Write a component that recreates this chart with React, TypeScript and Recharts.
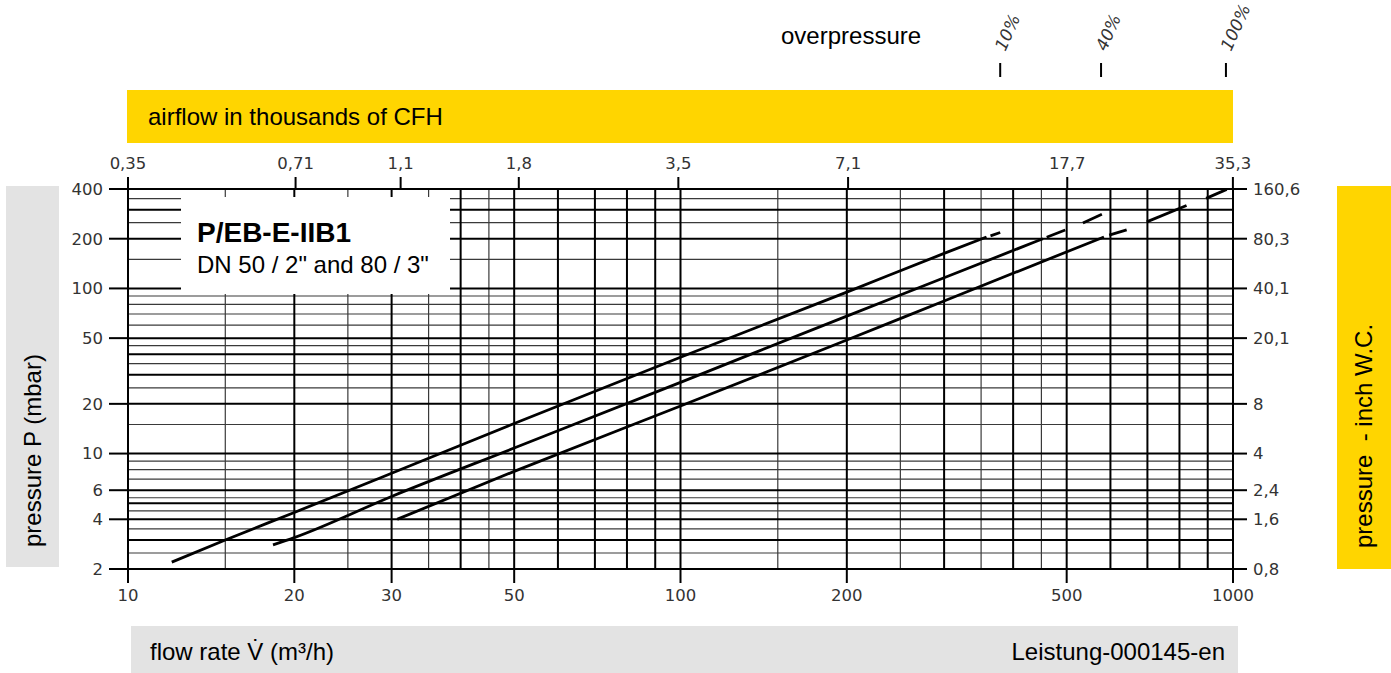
import React from "react";
import { ComposedChart, Line, XAxis, YAxis, ReferenceLine } from "recharts";

// axis ticks
const flowTicks = [10, 20, 30, 50, 100, 200, 500, 1000];
const mbarTicks = [2, 4, 6, 10, 20, 50, 100, 200, 400];
const inchLabels = ["0,8", "1,6", "2,4", "4", "8", "20,1", "40,1", "80,3", "160,6"];
const cfhValues = [0.35, 0.71, 1.1, 1.8, 3.5, 7.1, 17.7, 35.3];
const cfhLabels = ["0,35", "0,71", "1,1", "1,8", "3,5", "7,1", "17,7", "35,3"];
const overpressureAt = [379, 577, 971];
const overpressureLabels = ["10%", "40%", "100%"];

// grid
const gridXMajor = [20, 30, 40, 50, 60, 70, 80, 90, 100, 200, 300, 400, 500, 600, 700, 800, 900];
const gridXMinor = [15, 25, 35, 45, 150, 250, 350, 450];
const gridYMajor = [3, 4, 5, 6, 10, 20, 30, 40, 50, 100, 200, 300];
const gridYMinor = [2.5, 3.5, 4.5, 5.4, 7, 8, 9, 15, 25, 35, 45, 60, 70, 80, 90, 150, 250, 350];

// curves (flow m3/h, pressure mbar)
const curveA = [
  { x: 12, y: 2.2 }, { x: 15, y: 3.0 }, { x: 20, y: 4.4 }, { x: 30, y: 7.6 },
  { x: 50, y: 15.2 }, { x: 100, y: 38.3 }, { x: 200, y: 95 }, { x: 300, y: 163 }, { x: 358, y: 205 },
];
const curveADash = [[{ x: 364, y: 208 }, { x: 379, y: 218 }]];

const curveB = [
  { x: 18.3, y: 2.8 }, { x: 20, y: 3.1 }, { x: 30, y: 5.5 }, { x: 50, y: 10.8 },
  { x: 100, y: 27 }, { x: 200, y: 68 }, { x: 300, y: 116 }, { x: 453, y: 200 },
];
const curveBDash = [
  [{ x: 460, y: 204 }, { x: 497, y: 226 }],
  [{ x: 535, y: 249 }, { x: 579, y: 281 }],
];

const curveC = [
  { x: 30.7, y: 4.0 }, { x: 50, y: 7.8 }, { x: 100, y: 19.4 }, { x: 200, y: 48.7 },
  { x: 300, y: 84 }, { x: 584, y: 205 },
];
const curveCDash = [
  [{ x: 597, y: 210 }, { x: 642, y: 226 }],
  [{ x: 698, y: 253 }, { x: 824, y: 318 }],
  [{ x: 894, y: 351 }, { x: 974, y: 398 }],
];

const cfhPositions = cfhValues.map((v) => Math.min(1000, Math.max(10, (v * 1000) / 35.3147)));

const TICK_FONT = { fontFamily: "DejaVu Sans", fontSize: 16.5, fill: "#333" };
const LABEL_FONT = "Liberation Sans, Arial, sans-serif";
const YELLOW = "#FFD500";
const GREY = "#E3E3E3";

const OverpressureTick = (props: any) => {
  const { x, y, index } = props;
  const ox = x + 5;
  const oy = y - 11;
  return (
    <text
      x={ox}
      y={oy}
      transform={`rotate(-66 ${ox} ${oy})`}
      fontFamily="DejaVu Sans"
      fontSize={17}
      fontStyle="italic"
      fill="#333"
    >
      {overpressureLabels[index]}
    </text>
  );
};

const line = (data: { x: number; y: number }[], key: string, xAxisId = "flow", hidden = false) => (
  <Line
    key={key}
    data={data}
    dataKey="y"
    xAxisId={xAxisId}
    yAxisId="mbar"
    type="monotone"
    stroke={hidden ? "none" : "#000"}
    strokeWidth={2.8}
    dot={false}
    activeDot={false}
    legendType="none"
    isAnimationActive={false}
  />
);

export default function App() {
  return (
    <div style={{ position: "absolute", left: 0, top: 0, width: 1391, height: 673, background: "#fff" }}>
      <ComposedChart width={1391} height={673} margin={{ top: 0, right: 58, bottom: 64, left: 58 }}>
        <XAxis
          xAxisId="flow"
          type="number"
          dataKey="x"
          scale="log"
          domain={[10, 1000]}
          allowDataOverflow
          ticks={flowTicks}
          interval={0}
          height={40}
          tickSize={14}
          tickMargin={6}
          tick={TICK_FONT}
          axisLine={{ stroke: "#000", strokeWidth: 2 }}
          tickLine={{ stroke: "#000", strokeWidth: 2 }}
        />
        <XAxis
          xAxisId="cfh"
          orientation="top"
          type="number"
          dataKey="x"
          scale="log"
          domain={[10, 1000]}
          allowDataOverflow
          ticks={cfhPositions}
          tickFormatter={(_v: number, i: number) => cfhLabels[i]}
          interval={0}
          height={112}
          tickSize={12}
          tickMargin={8}
          tick={TICK_FONT}
          axisLine={{ stroke: "#000", strokeWidth: 2 }}
          tickLine={{ stroke: "#000", strokeWidth: 2 }}
        />
        <XAxis
          xAxisId="op"
          orientation="top"
          type="number"
          dataKey="x"
          scale="log"
          domain={[10, 1000]}
          allowDataOverflow
          ticks={overpressureAt}
          interval={0}
          height={77}
          tickSize={14}
          tickMargin={0}
          tick={<OverpressureTick />}
          axisLine={false}
          tickLine={{ stroke: "#000", strokeWidth: 2 }}
        />
        <YAxis
          yAxisId="mbar"
          type="number"
          scale="log"
          domain={[2, 400]}
          allowDataOverflow
          ticks={mbarTicks}
          interval={0}
          width={70}
          tickSize={19}
          tickMargin={6}
          tick={TICK_FONT}
          axisLine={{ stroke: "#000", strokeWidth: 2 }}
          tickLine={{ stroke: "#000", strokeWidth: 2 }}
        />
        <YAxis
          yAxisId="inch"
          orientation="right"
          type="number"
          scale="log"
          domain={[2, 400]}
          allowDataOverflow
          ticks={mbarTicks}
          tickFormatter={(_v: number, i: number) => inchLabels[i]}
          interval={0}
          width={100}
          tickSize={14}
          tickMargin={6}
          tick={{ ...TICK_FONT, textAnchor: "start" }}
          axisLine={{ stroke: "#000", strokeWidth: 2 }}
          tickLine={{ stroke: "#000", strokeWidth: 2 }}
        />

        {gridYMinor.map((v) => (
          <ReferenceLine key={"ym" + v} y={v} xAxisId="flow" yAxisId="mbar" stroke="#3a3a3a" strokeWidth={1.2} ifOverflow="hidden" />
        ))}
        {gridXMinor.map((v) => (
          <ReferenceLine key={"xm" + v} x={v} xAxisId="flow" yAxisId="mbar" stroke="#3a3a3a" strokeWidth={1.2} ifOverflow="hidden" />
        ))}
        {gridYMajor.map((v) => (
          <ReferenceLine key={"yM" + v} y={v} xAxisId="flow" yAxisId="mbar" stroke="#000" strokeWidth={2} ifOverflow="hidden" />
        ))}
        {gridXMajor.map((v) => (
          <ReferenceLine key={"xM" + v} x={v} xAxisId="flow" yAxisId="mbar" stroke="#000" strokeWidth={2} ifOverflow="hidden" />
        ))}
        <ReferenceLine y={400} xAxisId="flow" yAxisId="mbar" stroke="#000" strokeWidth={2} />
        <ReferenceLine x={1000} xAxisId="flow" yAxisId="mbar" stroke="#000" strokeWidth={2} />

        {/* invisible series so the two top axes get a scale */}
        {line(curveA, "hiddenCfh", "cfh", true)}
        {line(curveA, "hiddenOp", "op", true)}

        {line(curveA, "a")}
        {curveADash.map((d, i) => line(d, "ad" + i))}
        {line(curveB, "b")}
        {curveBDash.map((d, i) => line(d, "bd" + i))}
        {line(curveC, "c")}
        {curveCDash.map((d, i) => line(d, "cd" + i))}
      </ComposedChart>

      <svg
        width={1391}
        height={673}
        style={{ position: "absolute", left: 0, top: 0, pointerEvents: "none" }}
        fontFamily={LABEL_FONT}
      >
        <text x={781} y={44} fontSize={24} fill="#000">overpressure</text>
        <rect x={127} y={90} width={1106} height={53} fill={YELLOW} />
        <text x={148} y={125} fontSize={24} fill="#000">airflow in thousands of CFH</text>

        <rect x={6} y={186} width={53} height={381} fill={GREY} />
        <text x={41} y={547} fontSize={24} fill="#000" transform="rotate(-90 41 547)">pressure P (mbar)</text>

        <rect x={1337} y={186} width={54} height={383} fill={YELLOW} />
        <text x={1372} y={548} fontSize={24} fill="#000" transform="rotate(-90 1372 548)" style={{ whiteSpace: "pre" }}>
          {"pressure  - inch W.C."}
        </text>

        <rect x={131} y={626} width={1107} height={47} fill={GREY} />
        <text x={150} y={660} fontSize={24} fill="#000">flow rate V̇ (m³/h)</text>
        <text x={1225} y={660} fontSize={24} fill="#000" textAnchor="end">Leistung-000145-en</text>

        <rect x={181} y={197} width={269} height={97} fill="#fff" />
        <text x={197} y={242} fontSize={28} fontWeight="bold" fill="#000">P/EB-E-IIB1</text>
        <text x={197} y={273} fontSize={24} fill="#000">DN 50 / 2" and 80 / 3"</text>
      </svg>
    </div>
  );
}
